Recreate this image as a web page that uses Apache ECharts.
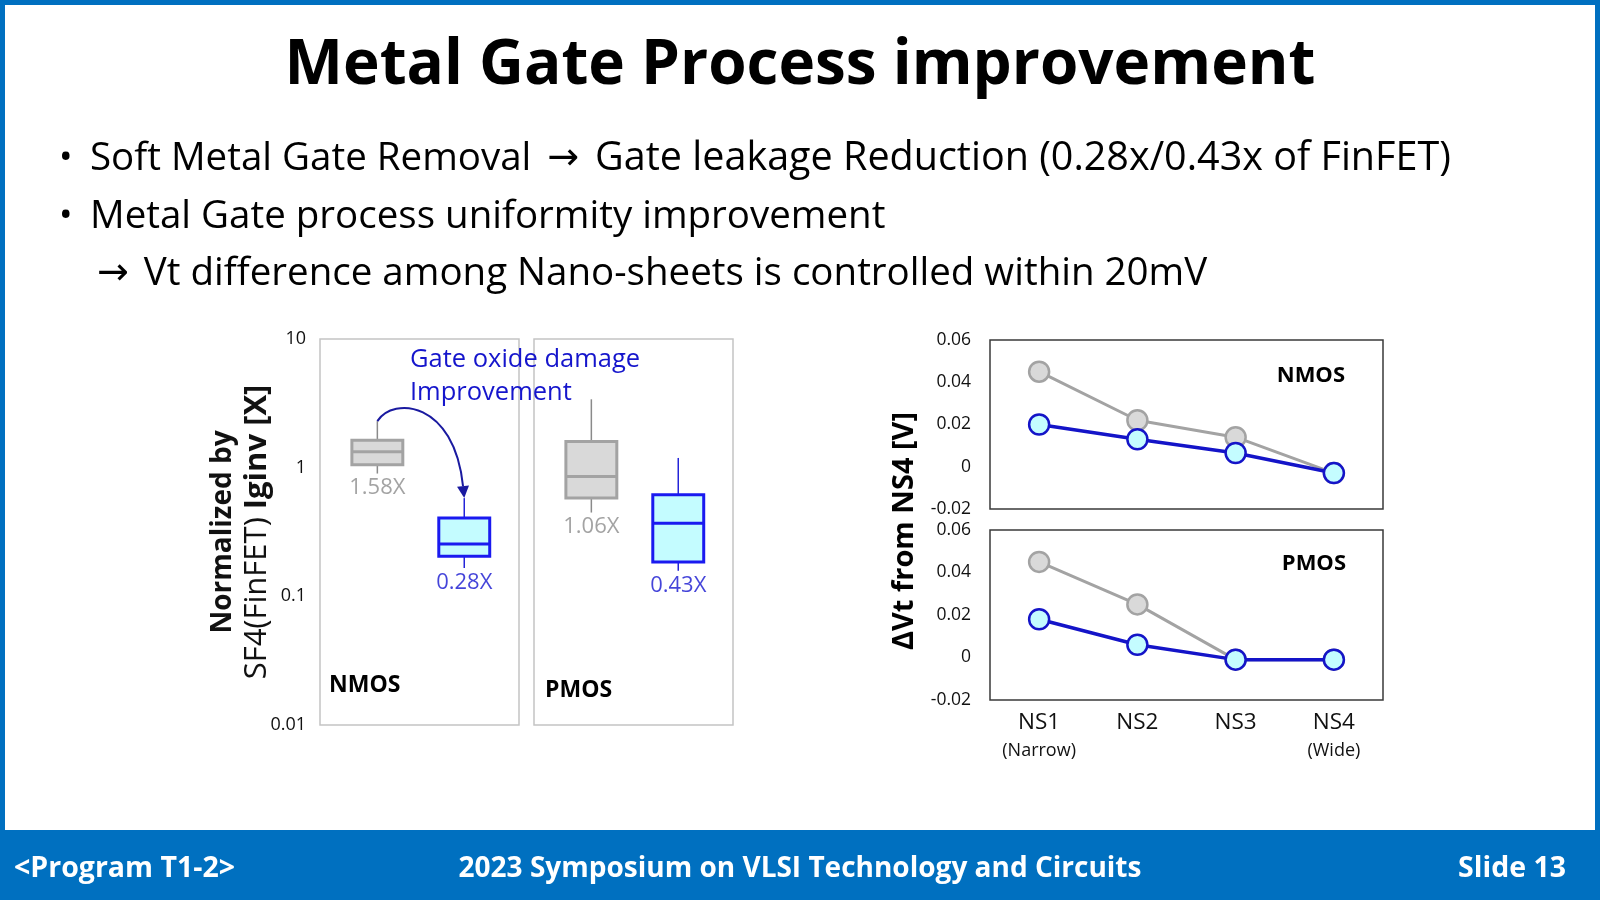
<!DOCTYPE html>
<html lang="en">
<head>
<meta charset="UTF-8">
<title>Metal Gate Process improvement</title>
<script src="https://cdn.jsdelivr.net/npm/echarts@6/dist/echarts.min.js"></script>
<style>
  html, body { margin: 0; padding: 0; background: #0070c0; }
  #chart { width: 1600px; height: 900px; }
</style>
</head>
<body>
<div id="chart"></div>
<script>
// gate leakage, normalized by SF4(FinFET) Iginv : [min, Q1, median, Q3, max]
// first box = before (gray), second box = after the process change (blue)
var nmosBoxes = [[0.90, 1.055, 1.33, 1.63, 2.3], [0.166, 0.205, 0.255, 0.407, 0.58]];
var pmosBoxes = [[0.448, 0.58, 0.855, 1.60, 3.40], [0.158, 0.185, 0.37, 0.615, 1.19]];
var nmosBoxLabels = ['1.58X', '0.28X'];
var pmosBoxLabels = ['1.06X', '0.43X'];

// Vt difference from NS4 [V]
var nsCategories = ['NS1', 'NS2', 'NS3', 'NS4'];
var nsSubLabels = ['(Narrow)', '', '', '(Wide)'];
var nmosVtBefore = [0.045, 0.022, 0.014, -0.003];
var nmosVtAfter = [0.020, 0.013, 0.0065, -0.003];
var pmosVtBefore = [0.045, 0.025, -0.001, -0.001];
var pmosVtAfter = [0.018, 0.006, -0.001, -0.001];

var FONT = "'Open Sans', sans-serif";
var GRAY_FILL = '#d9d9d9', GRAY_LINE = '#a3a3a3', GRAY_WHISKER = '#8a8a8a';
var BLUE_FILL = '#c4fcff', BLUE_LINE = '#1a1af0', BLUE_WHISKER = '#2424d8';
var VT_BLUE = '#1414c8';

var myChart = echarts.init(document.getElementById('chart'));

// box without whisker caps, as in the slide
function renderBox(params, api) {
    var i = api.value(0);
    var pMax = api.coord([i, api.value(5)]);
    var pQ3 = api.coord([i, api.value(4)]);
    var pMed = api.coord([i, api.value(3)]);
    var pQ1 = api.coord([i, api.value(2)]);
    var pMin = api.coord([i, api.value(1)]);
    var hw = api.size([1, 0])[0] * 0.293;
    var cx = pMed[0];
    var isNew = params.dataIndex === 1;
    var line = isNew ? BLUE_LINE : GRAY_LINE;
    var whisker = isNew ? BLUE_WHISKER : GRAY_WHISKER;
    return {
        type: 'group',
        children: [
            { type: 'line', shape: { x1: cx, y1: pMax[1], x2: cx, y2: pQ3[1] }, style: { stroke: whisker, lineWidth: 1.5 } },
            { type: 'line', shape: { x1: cx, y1: pQ1[1], x2: cx, y2: pMin[1] }, style: { stroke: whisker, lineWidth: 1.5 } },
            {
                type: 'rect',
                shape: { x: cx - hw, y: pQ3[1], width: hw * 2, height: pQ1[1] - pQ3[1] },
                style: { fill: isNew ? BLUE_FILL : GRAY_FILL, stroke: line, lineWidth: 3 }
            },
            { type: 'line', shape: { x1: cx - hw, y1: pMed[1], x2: cx + hw, y2: pMed[1] }, style: { stroke: line, lineWidth: 3 } }
        ]
    };
}

function boxSeries(arr, axisIdx) {
    return {
        type: 'custom',
        xAxisIndex: axisIdx,
        yAxisIndex: axisIdx,
        renderItem: renderBox,
        encode: { x: 0, y: [1, 2, 3, 4, 5] },
        data: arr.map(function (v, i) { return [i].concat(v); })
    };
}

function boxLabelSeries(arr, labels, axisIdx) {
    return {
        type: 'scatter',
        xAxisIndex: axisIdx,
        yAxisIndex: axisIdx,
        symbolSize: 1,
        itemStyle: { color: 'rgba(0,0,0,0)' },
        silent: true,
        z: 5,
        data: arr.map(function (v, i) {
            return {
                value: [i, v[0]],
                label: { color: i === 0 ? '#8c8c8c' : '#1515d0' }
            };
        }),
        label: {
            show: true,
            position: 'bottom',
            distance: 3,
            fontFamily: FONT,
            fontSize: 22,
            formatter: function (p) { return labels[p.dataIndex]; }
        }
    };
}

// curved arrow from the top of the old NMOS box to the top of the improved one
function renderArrow(params, api) {
    var p0 = api.coord([api.value(0), api.value(1)]);
    var p3 = api.coord([api.value(2), api.value(3)]);
    var c1 = [p0[0] + 16, p0[1] - 25];
    var c2 = [p3[0] - 10, p0[1] - 20];
    var dx = p3[0] - c2[0], dy = p3[1] - c2[1];
    var len = Math.sqrt(dx * dx + dy * dy);
    dx /= len; dy /= len;
    var bx = p3[0] - dx * 12, by = p3[1] - dy * 12;
    return {
        type: 'group',
        children: [
            {
                type: 'bezierCurve',
                shape: { x1: p0[0], y1: p0[1], cpx1: c1[0], cpy1: c1[1], cpx2: c2[0], cpy2: c2[1], x2: bx, y2: by },
                style: { stroke: '#1a1aa0', lineWidth: 2, fill: null }
            },
            {
                type: 'polygon',
                shape: { points: [[p3[0], p3[1]], [bx - dy * 6, by + dx * 6], [bx + dy * 6, by - dx * 6]] },
                style: { fill: '#1a1aa0' }
            }
        ]
    };
}

function vtSeries(vals, axisIdx, isAfter) {
    return {
        type: 'line',
        xAxisIndex: axisIdx,
        yAxisIndex: axisIdx,
        data: vals,
        symbol: 'circle',
        symbolSize: 20,
        z: isAfter ? 4 : 3,
        lineStyle: { color: isAfter ? VT_BLUE : GRAY_LINE, width: isAfter ? 3.5 : 3 },
        itemStyle: {
            color: isAfter ? BLUE_FILL : GRAY_FILL,
            borderColor: isAfter ? VT_BLUE : GRAY_LINE,
            borderWidth: 2.5
        }
    };
}

// box positions: 0 = before, 1 = after
var boxXAxis = {
    type: 'value',
    min: -0.66,
    max: 1.63,
    show: false
};

var hiddenCat = {
    type: 'category',
    data: nsCategories,
    boundaryGap: true,
    axisLine: { show: false },
    axisTick: { show: false },
    axisLabel: { show: false }
};

var logAxis = {
    type: 'log',
    logBase: 10,
    min: 0.01,
    max: 10,
    axisLine: { show: false },
    axisTick: { show: false },
    splitLine: { show: false }
};

var vtAxis = {
    type: 'value',
    min: -0.02,
    max: 0.06,
    interval: 0.02,
    axisLine: { show: false },
    axisTick: { show: false },
    splitLine: { show: false },
    axisLabel: { fontFamily: FONT, fontSize: 17.5, color: '#111', margin: 19 }
};

var option = {
    animation: false,
    textStyle: { fontFamily: FONT },
    grid: [
        { left: 320, top: 339, width: 199, height: 386, show: true, borderColor: '#c4c4c4', borderWidth: 1.5 },
        { left: 534, top: 339, width: 199, height: 386, show: true, borderColor: '#c4c4c4', borderWidth: 1.5 },
        { left: 990, top: 340, width: 393, height: 169, show: true, borderColor: '#3a3a3a', borderWidth: 1.5 },
        { left: 990, top: 530, width: 393, height: 170, show: true, borderColor: '#3a3a3a', borderWidth: 1.5 }
    ],
    xAxis: [
        Object.assign({}, boxXAxis, { gridIndex: 0 }),
        Object.assign({}, boxXAxis, { gridIndex: 1 }),
        Object.assign({}, hiddenCat, { gridIndex: 2 }),
        {
            gridIndex: 3,
            type: 'category',
            data: nsCategories,
            boundaryGap: true,
            axisLine: { show: false },
            axisTick: { show: false },
            axisLabel: {
                margin: 8,
                formatter: function (v, i) {
                    return '{a|' + v + '}' + (nsSubLabels[i] ? '\n{b|' + nsSubLabels[i] + '}' : '');
                },
                rich: {
                    a: { fontFamily: FONT, fontSize: 22.5, color: '#111', lineHeight: 30 },
                    b: { fontFamily: FONT, fontSize: 18, color: '#111', lineHeight: 25 }
                }
            }
        }
    ],
    yAxis: [
        Object.assign({}, logAxis, {
            gridIndex: 0,
            axisLabel: { fontFamily: FONT, fontSize: 18, color: '#111', margin: 14 },
            name: '{b|Normalized by}\n{r|SF4(FinFET) }{c|Iginv [X]}',
            nameLocation: 'middle',
            nameRotate: 90,
            nameGap: 46,
            nameMoveOverlap: false,
            nameTextStyle: {
                rich: {
                    b: { fontFamily: FONT, fontSize: 28, fontWeight: 'bold', color: '#111', lineHeight: 34 },
                    r: { fontFamily: FONT, fontSize: 31, fontWeight: 'normal', color: '#111', lineHeight: 34 },
                    c: { fontFamily: FONT, fontSize: 31, fontWeight: 'bold', color: '#111', lineHeight: 34 }
                }
            }
        }),
        Object.assign({}, logAxis, { gridIndex: 1, axisLabel: { show: false } }),
        Object.assign({}, vtAxis, { gridIndex: 2 }),
        Object.assign({}, vtAxis, { gridIndex: 3 })
    ],
    series: [
        boxSeries(nmosBoxes, 0),
        boxSeries(pmosBoxes, 1),
        boxLabelSeries(nmosBoxes, nmosBoxLabels, 0),
        boxLabelSeries(pmosBoxes, pmosBoxLabels, 1),
        {
            type: 'custom',
            xAxisIndex: 0,
            yAxisIndex: 0,
            z: 6,
            silent: true,
            renderItem: renderArrow,
            encode: { x: [0, 2], y: [1, 3] },
            data: [[0, nmosBoxes[0][4], 1, nmosBoxes[1][4]]]
        },
        vtSeries(nmosVtBefore, 2, false),
        vtSeries(nmosVtAfter, 2, true),
        vtSeries(pmosVtBefore, 3, false),
        vtSeries(pmosVtAfter, 3, true)
    ],
    graphic: [
        { type: 'rect', z: -10, shape: { x: 5, y: 5, width: 1590, height: 825 }, style: { fill: '#ffffff' } },
        {
            type: 'text', x: 800, y: 66, z: 50,
            style: { text: 'Metal Gate Process improvement', fontFamily: FONT, fontSize: 62, fontWeight: 'bold', fill: '#000', align: 'center', verticalAlign: 'middle' }
        },
        { type: 'text', x: 59, y: 159, z: 50, style: { text: '•', fontFamily: FONT, fontSize: 36, fill: '#000', verticalAlign: 'middle' } },
        {
            type: 'text', x: 90, y: 159, z: 50,
            style: {
                text: '{t|Soft Metal Gate Removal}{a|→}{u|Gate leakage Reduction (0.28x/0.43x of FinFET)}',
                verticalAlign: 'middle',
                rich: {
                    t: { fontFamily: FONT, fontSize: 38.5, fill: '#000' },
                    u: { fontFamily: FONT, fontSize: 39.5, fill: '#000' },
                    a: { fontFamily: 'DejaVu Sans', fontSize: 38, fill: '#000', padding: [0, 16, 0, 16] }
                }
            }
        },
        { type: 'text', x: 59, y: 217, z: 50, style: { text: '•', fontFamily: FONT, fontSize: 36, fill: '#000', verticalAlign: 'middle' } },
        {
            type: 'text', x: 90, y: 217, z: 50,
            style: { text: 'Metal Gate process uniformity improvement', fontFamily: FONT, fontSize: 38.5, fill: '#000', verticalAlign: 'middle' }
        },
        {
            type: 'text', x: 97, y: 274, z: 50,
            style: {
                text: '{a|→}{t|Vt difference among Nano-sheets is controlled within 20mV}',
                verticalAlign: 'middle',
                rich: {
                    t: { fontFamily: FONT, fontSize: 38.5, fill: '#000' },
                    a: { fontFamily: 'DejaVu Sans', fontSize: 38, fill: '#000', padding: [0, 15, 0, 0] }
                }
            }
        },
        {
            type: 'text', x: 410, y: 343, z: 50,
            style: { text: 'Gate oxide damage\nImprovement', fontFamily: FONT, fontSize: 25.5, lineHeight: 33, fill: '#1515cc', verticalAlign: 'top' }
        },
        { type: 'text', x: 329, y: 685, z: 50, style: { text: 'NMOS', fontFamily: FONT, fontSize: 23, fontWeight: 'bold', fill: '#000', verticalAlign: 'middle' } },
        { type: 'text', x: 545, y: 690, z: 50, style: { text: 'PMOS', fontFamily: FONT, fontSize: 23, fontWeight: 'bold', fill: '#000', verticalAlign: 'middle' } },
        { type: 'text', x: 1345, y: 376, z: 50, style: { text: 'NMOS', fontFamily: FONT, fontSize: 22, fontWeight: 'bold', fill: '#000', align: 'right', verticalAlign: 'middle' } },
        { type: 'text', x: 1346, y: 564, z: 50, style: { text: 'PMOS', fontFamily: FONT, fontSize: 22, fontWeight: 'bold', fill: '#000', align: 'right', verticalAlign: 'middle' } },
        {
            type: 'text', x: 905, y: 531, z: 50, rotation: Math.PI / 2,
            style: { text: 'ΔVt from NS4 [V]', fontFamily: FONT, fontSize: 29, fontWeight: 'bold', fill: '#000', align: 'center', verticalAlign: 'middle' }
        },
        { type: 'text', x: 14, y: 869, z: 50, style: { text: '<Program T1-2>', fontFamily: FONT, fontSize: 28.5, fontWeight: 'bold', fill: '#fff', verticalAlign: 'middle' } },
        { type: 'text', x: 800, y: 869, z: 50, style: { text: '2023 Symposium on VLSI Technology and Circuits', fontFamily: FONT, fontSize: 28, fontWeight: 'bold', fill: '#fff', align: 'center', verticalAlign: 'middle' } },
        { type: 'text', x: 1566, y: 869, z: 50, style: { text: 'Slide 13', fontFamily: FONT, fontSize: 28.5, fontWeight: 'bold', fill: '#fff', align: 'right', verticalAlign: 'middle' } }
    ]
};

myChart.setOption(option);
</script>
</body>
</html>
